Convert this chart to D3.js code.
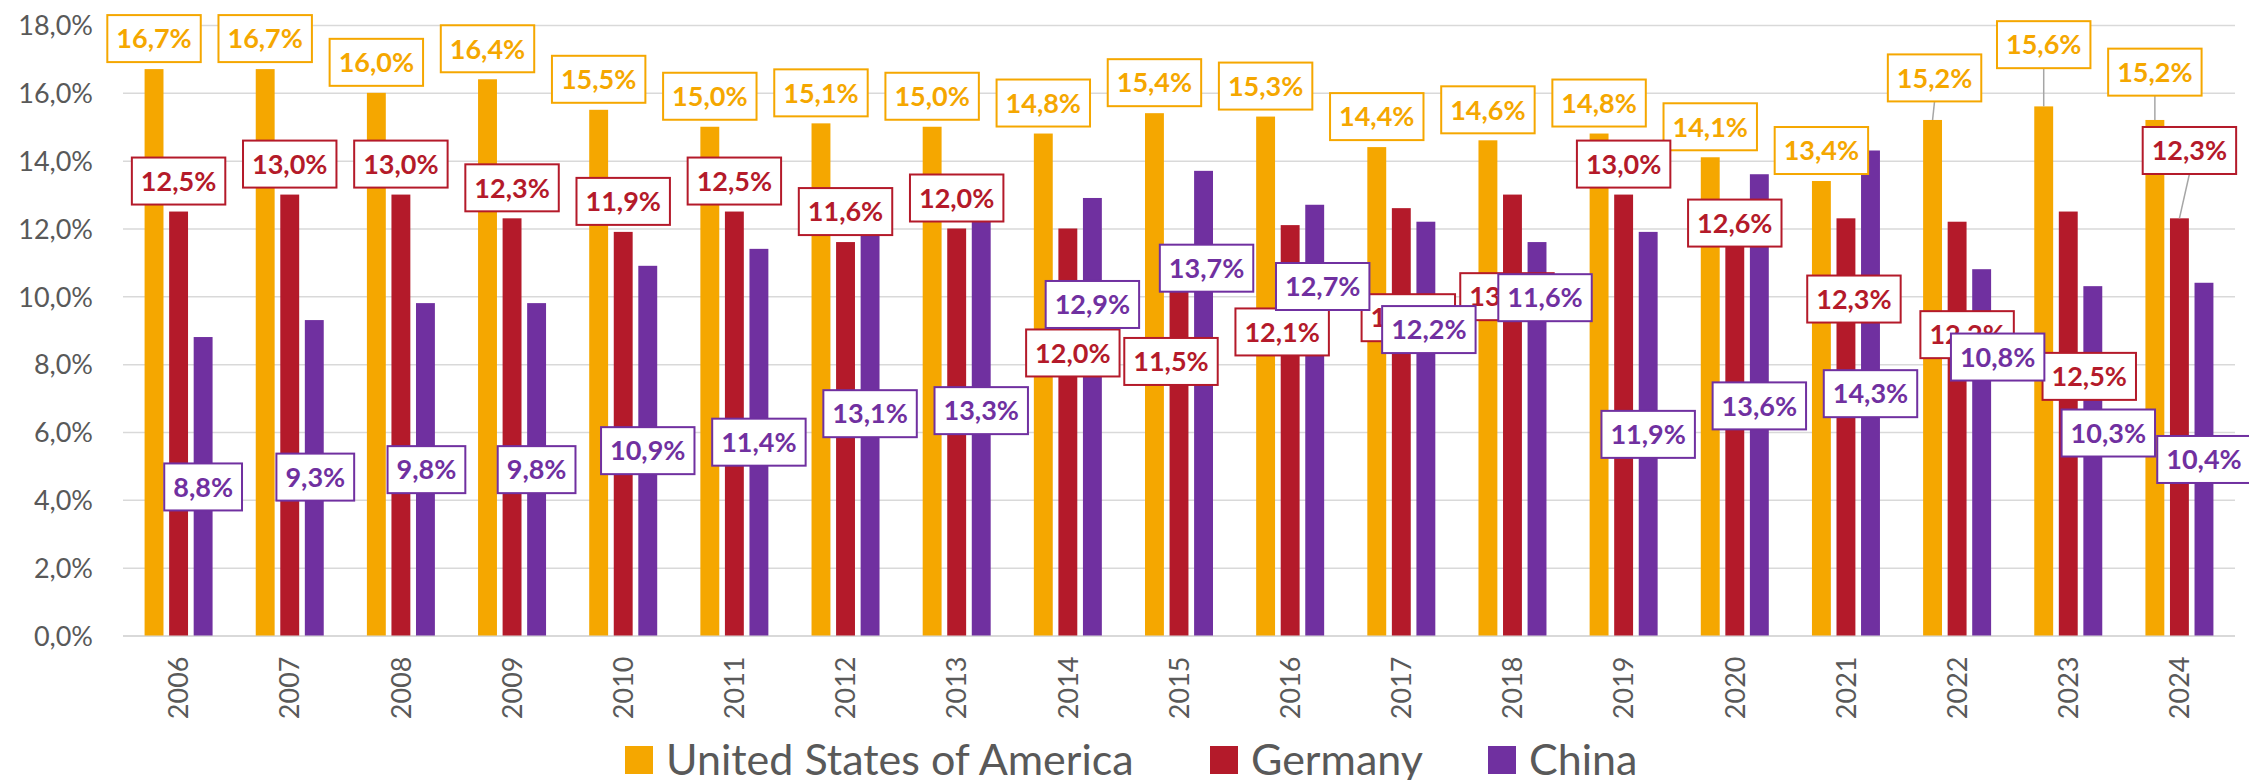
<!DOCTYPE html>
<html>
<head>
<meta charset="utf-8">
<script src="https://cdn.jsdelivr.net/npm/d3@7"></script>
<style>
  body { margin: 0; background: #fff; }
  svg { display: block; font-family: Lato, "Noto Sans", sans-serif; }
</style>
</head>
<body>
<svg width="2249" height="780"></svg>
<script>
// data
var years = ["2006", "2007", "2008", "2009", "2010", "2011", "2012", "2013", "2014", "2015",
             "2016", "2017", "2018", "2019", "2020", "2021", "2022", "2023", "2024"];
var usa = [16.7, 16.7, 16.0, 16.4, 15.5, 15.0, 15.1, 15.0, 14.8, 15.4, 15.3, 14.4, 14.6, 14.8, 14.1, 13.4, 15.2, 15.6, 15.2];
var germany = [12.5, 13.0, 13.0, 12.3, 11.9, 12.5, 11.6, 12.0, 12.0, 11.5, 12.1, 12.6, 13.0, 13.0, 12.6, 12.3, 12.2, 12.5, 12.3];
var china = [8.8, 9.3, 9.8, 9.8, 10.9, 11.4, 13.1, 13.3, 12.9, 13.7, 12.7, 12.2, 11.6, 11.9, 13.6, 14.3, 10.8, 10.3, 10.4];
var seriesNames = ["United States of America", "Germany", "China"];
var yTicks = [0, 2, 4, 6, 8, 10, 12, 14, 16, 18];

// label placement (moved labels, in value units; null = outside end)
var usaLabelY = [null, null, null, null, null, null, null, null, null, null, null, null, null, null, null, null, 16.44, 17.42, 16.61];
var usaLabelDx = [0, 0, 0, 0, 0, 0, 0, 0, 0, 0, 0, 0, 0, 0, 0, 0, 2, 0, 0];
var gerLabelY = [null, null, null, null, null, null, null, null, 8.33, 8.08, 8.95, 9.37, 9.99, null, 12.16, 9.92, 8.87, 7.64, 14.30];
var gerLabelDx = [0, 0, 0, 0, 0, 0, 0, 0, 5, -8, -8, 7, -5.5, 0, 0, 8, 10, 21, 10];
var chnLabelY = [4.38, 4.67, 4.89, 4.89, 5.45, 5.70, 6.54, 6.63, 9.76, 10.83, 10.29, 9.02, 9.96, 5.93, 6.77, 7.13, 8.21, 5.97, 5.19];
var chnLabelDx = [0, 1, 1, 0, 0, 0, 0, 0, 0, 3, 8, 3, 8, 0, 0, 0, 16, 15.5, 0];

var colors = ["#F5A700", "#B41A2A", "#7030A0"];
var legendX = [625, 1210, 1488];

var svg = d3.select("svg"),
    plotL = 123, plotR = 2235, plotT = 25, plotB = 635.5;

var x0 = d3.scaleBand().domain(years).range([plotL, plotR]).padding(0);
var x1 = d3.scaleBand().domain([0, 1, 2]).range([-34, 34]).paddingInner(0.23);
var y = d3.scaleLinear().domain([0, 18]).range([plotB, plotT]);

var fmt = function (d) { return d.toFixed(1).replace(".", ",") + "%"; };

// gridlines + y axis
var yAxis = svg.append("g")
    .attr("transform", "translate(" + plotL + ",0)")
    .call(d3.axisLeft(y).tickValues(yTicks).tickSize(-(plotR - plotL)).tickFormat(fmt));
yAxis.select(".domain").remove();
yAxis.selectAll(".tick line")
    .attr("stroke", "#d9d9d9")
    .attr("stroke-width", function (d) { return d === 0 ? 2 : 1.5; });
yAxis.selectAll(".tick text")
    .attr("x", -30)
    .attr("dy", "0.36em")
    .attr("fill", "#595959")
    .style("font-size", "27px")
    .style("font-family", "Lato, sans-serif");

// x axis
var xAxis = svg.append("g")
    .attr("transform", "translate(0," + plotB + ")")
    .call(d3.axisBottom(x0).tickSize(0));
xAxis.select(".domain").remove();
xAxis.selectAll(".tick text")
    .attr("transform", "rotate(-90)")
    .attr("x", -21)
    .attr("y", 0)
    .attr("dy", "0.36em")
    .attr("text-anchor", "end")
    .attr("fill", "#595959")
    .style("font-size", "27px")
    .style("font-family", "Lato, sans-serif");

var series = [
    { values: usa, labelY: usaLabelY, labelDx: usaLabelDx },
    { values: germany, labelY: gerLabelY, labelDx: gerLabelDx },
    { values: china, labelY: chnLabelY, labelDx: chnLabelDx }
];

function barCx(i, s) {
    return x0(years[i]) + x0.bandwidth() / 2 + x1(s) + x1.bandwidth() / 2;
}

// bars
series.forEach(function (ser, s) {
    svg.append("g").selectAll("rect")
        .data(ser.values)
        .enter().append("rect")
        .attr("x", function (d, i) { return x0(years[i]) + x0.bandwidth() / 2 + x1(s); })
        .attr("y", function (d) { return y(d); })
        .attr("width", x1.bandwidth())
        .attr("height", function (d) { return plotB - y(d); })
        .attr("fill", colors[s]);
});

// data labels
var boxH = 47;
var labels = [];
series.forEach(function (ser, s) {
    ser.values.forEach(function (v, i) {
        var cy = ser.labelY[i] == null ? y(v) - 7 - boxH / 2 : y(ser.labelY[i]);
        labels.push({ s: s, v: v, i: i, cx: barCx(i, s) + ser.labelDx[i], cy: cy, bx: barCx(i, s), top: y(v) });
    });
});

// leader lines
svg.append("g").selectAll("line")
    .data(labels.filter(function (d) { return d.top - (d.cy + boxH / 2) > 12; }))
    .enter().append("line")
    .attr("x1", function (d) { return d.cx; })
    .attr("y1", function (d) { return d.cy + boxH / 2; })
    .attr("x2", function (d) { return d.bx; })
    .attr("y2", function (d) { return d.top; })
    .attr("stroke", "#a6a6a6")
    .attr("stroke-width", 1.5);

var lab = svg.append("g").selectAll("g")
    .data(labels)
    .enter().append("g")
    .attr("transform", function (d) { return "translate(" + d.cx + "," + d.cy + ")"; });

var rects = lab.append("rect")
    .attr("fill", "#fff")
    .attr("stroke", function (d) { return colors[d.s]; })
    .attr("stroke-width", 2);

var texts = lab.append("text")
    .attr("text-anchor", "middle")
    .attr("dy", "0.36em")
    .attr("fill", function (d) { return colors[d.s]; })
    .style("font-size", "27px")
    .style("font-weight", "bold")
    .text(function (d) { return fmt(d.v); });

texts.each(function (d) { d.w = this.getComputedTextLength() + 18; });
rects
    .attr("x", function (d) { return -d.w / 2; })
    .attr("y", -boxH / 2)
    .attr("width", function (d) { return d.w; })
    .attr("height", boxH);

// legend
var legend = svg.append("g").selectAll("g")
    .data(seriesNames)
    .enter().append("g")
    .attr("transform", function (d, i) { return "translate(" + legendX[i] + ",746)"; });

legend.append("rect")
    .attr("width", 28)
    .attr("height", 28)
    .attr("fill", function (d, i) { return colors[i]; });

legend.append("text")
    .attr("x", 41)
    .attr("y", 29)
    .attr("fill", "#595959")
    .style("font-size", "43px")
    .text(function (d) { return d; });
</script>
</body>
</html>
